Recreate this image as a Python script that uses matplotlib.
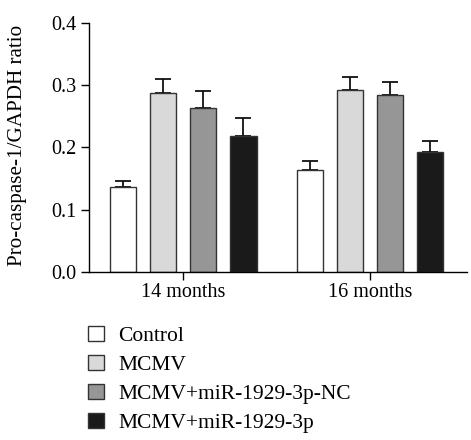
import numpy as np
import matplotlib.pyplot as plt
from matplotlib.patches import Patch

plt.rcParams['font.family'] = ['Liberation Serif', 'DejaVu Serif']

groups = ['14 months', '16 months']
series = ['Control', 'MCMV', 'MCMV+miR-1929-3p-NC', 'MCMV+miR-1929-3p']
means = [
    [0.136, 0.164],
    [0.287, 0.292],
    [0.263, 0.284],
    [0.218, 0.192],
]
errs = [
    [0.010, 0.014],
    [0.023, 0.021],
    [0.028, 0.022],
    [0.029, 0.019],
]
colors = ['#ffffff', '#d9d9d9', '#969696', '#1a1a1a']

fig = plt.figure(figsize=(4.71, 4.4), dpi=100)
ax = fig.add_axes([89 / 471, 1 - 272 / 440, (467 - 89) / 471, (272 - 23) / 440])

x = np.arange(len(groups))
offsets = [-0.321, -0.107, 0.107, 0.321]
width = 0.144
handles = []
for i in range(len(series)):
    ax.errorbar(x + offsets[i], means[i], yerr=[[0, 0], errs[i]], fmt='none',
                ecolor='#111111', elinewidth=1.3, capsize=6, capthick=1.3, zorder=1)
    ax.bar(x + offsets[i], means[i], width, color=colors[i], edgecolor='#333333',
           linewidth=1.0, zorder=2)
    handles.append(Patch(facecolor=colors[i], edgecolor='#333333', linewidth=1.0,
                         label=series[i]))

ax.set_xlim(-0.503, 1.519)
ax.set_ylim(0, 0.4)
ax.set_yticks([0.0, 0.1, 0.2, 0.3, 0.4])
ax.set_yticklabels(['0.0', '0.1', '0.2', '0.3', '0.4'])
ax.set_xticks(x)
ax.set_xticklabels(groups)
ax.spines['top'].set_visible(False)
ax.spines['right'].set_visible(False)
ax.spines['left'].set_linewidth(1.0)
ax.spines['bottom'].set_linewidth(1.0)
ax.tick_params(axis='both', direction='out', length=6, width=1.0, labelsize=14.5, pad=2)
ax.tick_params(axis='y', pad=3)
ax.set_ylabel('Pro-caspase-1/GAPDH ratio', fontsize=15.2)
ax.yaxis.set_label_coords(-0.164, 0.51)

fig.legend(handles=handles, loc='upper left', bbox_to_anchor=(88 / 471, 1 - 326 / 440),
           frameon=False, fontsize=15.5, handlelength=0.75, handleheight=0.7,
           handletextpad=0.65, labelspacing=0.41, borderaxespad=0, borderpad=0)

fig.savefig('out.png', dpi=100)
